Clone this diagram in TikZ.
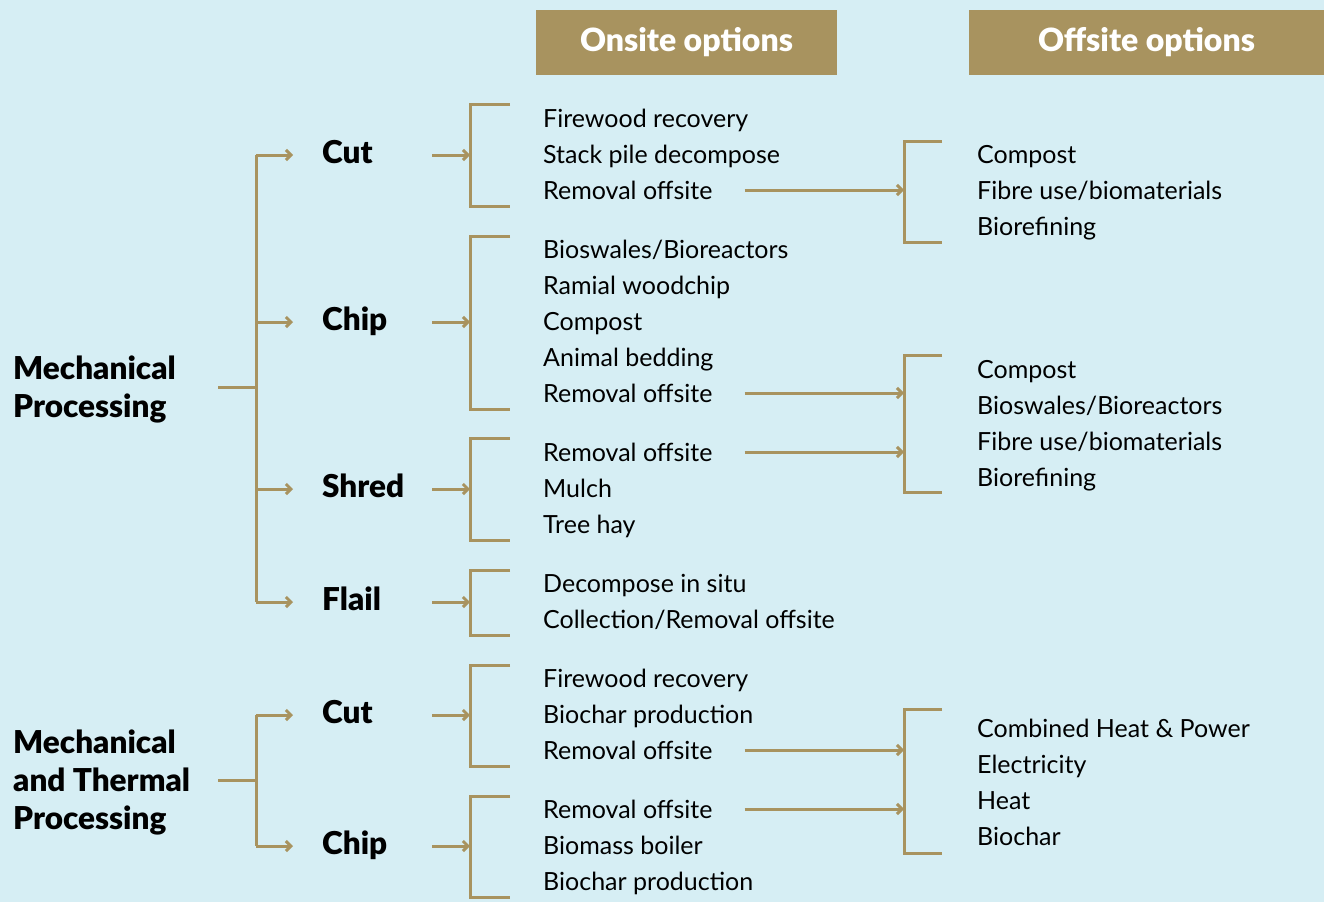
\documentclass[tikz,border=0pt]{standalone}
\usepackage{fontspec}
\setmainfont{Lato}
\newfontfamily\heavyfont{Lato Black}
\usetikzlibrary{arrows.meta,positioning}
\definecolor{paleblue}{HTML}{D6EEF4}
\definecolor{khaki}{HTML}{A8935F}
\tikzset{
  heading/.style={fill=khaki, text=white, inner sep=0pt, minimum height=65pt,
    font=\fontsize{32}{34}\selectfont\heavyfont},
  process/.style={anchor=west, inner sep=0pt, align=flush left, text width=205pt,
    font=\fontsize{31.5}{38}\selectfont\heavyfont},
  method/.style={anchor=west, inner sep=0pt, text width=110pt,
    text height=17pt, text depth=0pt,
    font=\fontsize{31.5}{36}\selectfont\heavyfont},
  option/.style={anchor=west, inner sep=0pt, text height=18pt, text depth=0pt,
    font=\fontsize{25}{27}\selectfont},
  optbracket/.style={draw=khaki, line width=3pt},
  feed/.style={draw=khaki, line width=3pt, -{Straight Barb[length=5pt,width=10pt]}},
}

\begin{document}
\begin{tikzpicture}[x=1pt,y=-1pt]
    \fill[paleblue] (0,0) rectangle (1324,902);
    \useasboundingbox (0,0) rectangle (1324,902);

    % headings
    \node[heading, minimum width=301pt] (onsite) at (686.5,42.5) {Onsite options};
    \node[heading, minimum width=355pt] (offsite) at (1146.5,42.5) {Offsite options};

    % processes and methods
    \node[process] (mech) at (13,389) {Mechanical\\Processing};
    \node[process] (therm) at (13,782) {Mechanical\\and Thermal\\Processing};

    \node[method] (cut) at (322,155) {Cut};
    \node[method] (chip) at (322,322) {Chip};
    \node[method] (shred) at (322,489) {Shred};
    \node[method] (flail) at (322,602) {Flail};
    \node[method] (tcut) at (322,715) {Cut};
    \node[method] (tchip) at (322,846) {Chip};

    % onsite options
    \foreach \t [count=\i] in {Firewood recovery, Stack pile decompose, Removal offsite}
        \node[option] (cutA\i) at (543,{118+36*(\i-1)}) {\t};
    \foreach \t [count=\i] in {Bioswales/Bioreactors, Ramial woodchip, Compost, Animal bedding, Removal offsite}
        \node[option] (chipA\i) at (543,{249+36*(\i-1)}) {\t};
    \foreach \t [count=\i] in {Removal offsite, Mulch, Tree hay}
        \node[option] (shredA\i) at (543,{452+36*(\i-1)}) {\t};
    \foreach \t [count=\i] in {Decompose in situ, Collection/Removal offsite}
        \node[option] (flailA\i) at (543,{583+36*(\i-1)}) {\t};
    \foreach \t [count=\i] in {Firewood recovery, Biochar production, Removal offsite}
        \node[option] (tcutA\i) at (543,{678+36*(\i-1)}) {\t};
    \foreach \t [count=\i] in {Removal offsite, Biomass boiler, Biochar production}
        \node[option] (tchipA\i) at (543,{809+36*(\i-1)}) {\t};

    % offsite options
    \foreach \t [count=\i] in {Compost, Fibre use/biomaterials, Biorefining}
        \node[option] (offA\i) at (977,{154+36*(\i-1)}) {\t};
    \foreach \t [count=\i] in {Compost, Bioswales/Bioreactors, Fibre use/biomaterials, Biorefining}
        \node[option] (offB\i) at (977,{369+36*(\i-1)}) {\t};
    \foreach \t [count=\i] in {Combined Heat \& Power, Electricity, Heat, Biochar}
        \node[option] (offC\i) at (977,{728+36.3*(\i-1)}) {\t};

    % brackets
    \coordinate (mechJ) at (256,387);
    \coordinate (thermJ) at (256,780);
    \coordinate (onJ) at (470,0);
    \coordinate (offJ) at (904,0);

    \draw[optbracket] (mech.east |- mechJ) -- (mechJ);
    \draw[optbracket] (mechJ |- cut) -- (mechJ |- flail);
    \draw[optbracket] (therm.east |- thermJ) -- (thermJ);
    \draw[optbracket] (thermJ |- tcut) -- (thermJ |- tchip);

    \draw[optbracket] (510,104) -- (470,104) -- (470,206) -- (510,206);
    \draw[optbracket] (510,236) -- (470,236) -- (470,409) -- (510,409);
    \draw[optbracket] (510,438) -- (470,438) -- (470,540) -- (510,540);
    \draw[optbracket] (510,570) -- (470,570) -- (470,635) -- (510,635);
    \draw[optbracket] (510,665) -- (470,665) -- (470,766) -- (510,766);
    \draw[optbracket] (510,796) -- (470,796) -- (470,897) -- (510,897);

    \draw[optbracket] (942,141) -- (904,141) -- (904,242) -- (942,242);
    \draw[optbracket] (942,355) -- (904,355) -- (904,492) -- (942,492);
    \draw[optbracket] (942,709) -- (904,709) -- (904,853) -- (942,853);

    % arrows
    \foreach \p in {cut,chip,shred,flail}
        \draw[feed] (mechJ |- \p.west) -- ([xshift=-29pt]\p.west);
    \foreach \p in {tcut,tchip}
        \draw[feed] (thermJ |- \p.west) -- ([xshift=-29pt]\p.west);
    \foreach \p in {cut,chip,shred,flail,tcut,tchip}
        \draw[feed] (\p.east) -- (onJ |- \p.east);

    \foreach \p in {cutA3,chipA5,shredA1,tcutA3,tchipA1}
        \draw[feed] ([xshift=32pt]\p.east) -- (offJ |- \p.east);
\end{tikzpicture}
\end{document}
